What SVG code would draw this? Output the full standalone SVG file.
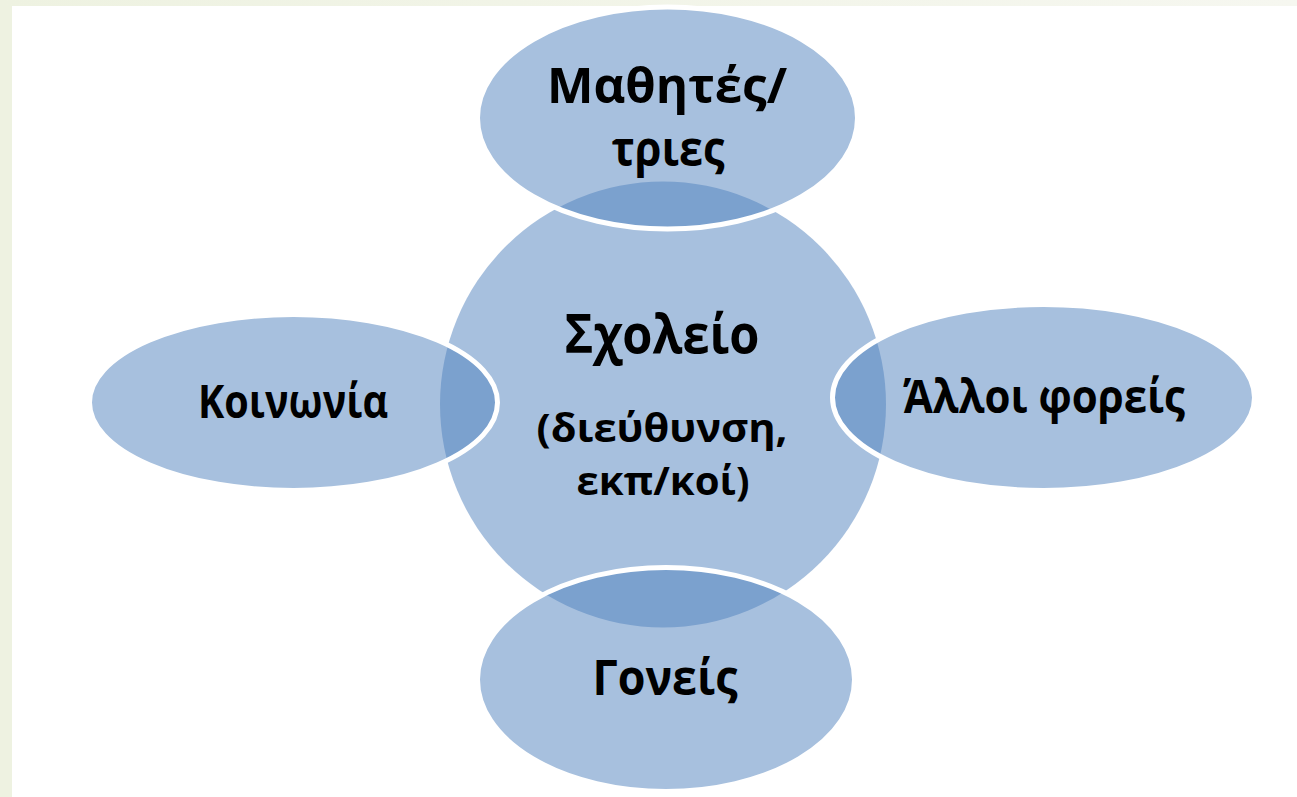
<svg xmlns="http://www.w3.org/2000/svg" width="1297" height="797" viewBox="0 0 1297 797">
  <defs>
    <linearGradient id="topStrip" x1="0" y1="0" x2="1" y2="0">
      <stop offset="0" stop-color="#eef2e1"/>
      <stop offset="1" stop-color="#f6f7f0"/>
    </linearGradient>
  </defs>
  <style>
    .center { fill: #4f81bd; fill-opacity: 0.5; stroke: none; }
    .sat { fill: #4f81bd; fill-opacity: 0.5; stroke: #ffffff; stroke-width: 5; }
    .lbl { font-family: "Open Sans", "Noto Sans", "DejaVu Sans", sans-serif; font-weight: 700; fill: #000000; text-anchor: middle; }
  </style>
  <rect x="0" y="0" width="1297" height="797" fill="#eef2e1"/>
  <rect x="0" y="0" width="1297" height="6" fill="url(#topStrip)"/>
  <rect x="12" y="6" width="1285" height="791" fill="#ffffff"/>

  <g id="connectors"></g>

  <g id="node-school">
    <circle class="center" cx="663" cy="404.5" r="223"/>
  </g>
  <g id="node-students">
    <ellipse class="sat" cx="667.5" cy="118" rx="190" ry="111"/>
  </g>
  <g id="node-society">
    <ellipse class="sat" cx="293.5" cy="402.5" rx="204" ry="88"/>
  </g>
  <g id="node-others">
    <ellipse class="sat" cx="1043.5" cy="397.5" rx="211" ry="93"/>
  </g>
  <g id="node-parents">
    <ellipse class="sat" cx="666" cy="679.5" rx="188.5" ry="112"/>
  </g>

  <g id="labels">
    <text class="lbl" x="667" y="103" font-size="49" textLength="240" lengthAdjust="spacingAndGlyphs">Μαθητές/</text>
    <text class="lbl" x="668" y="166" font-size="49" textLength="113" lengthAdjust="spacingAndGlyphs">τριες</text>
    <text class="lbl" x="662" y="353" font-size="54" textLength="195" lengthAdjust="spacingAndGlyphs">Σχολείο</text>
    <text class="lbl" x="662" y="442" font-size="39" textLength="251" lengthAdjust="spacingAndGlyphs">(διεύθυνση,</text>
    <text class="lbl" x="663" y="495" font-size="39" textLength="173" lengthAdjust="spacingAndGlyphs">εκπ/κοί)</text>
    <text class="lbl" x="293" y="418" font-size="47" textLength="190" lengthAdjust="spacingAndGlyphs">Κοινωνία</text>
    <text class="lbl" x="1044" y="413" font-size="47" textLength="282" lengthAdjust="spacingAndGlyphs">Άλλοι φορείς</text>
    <text class="lbl" x="665" y="695" font-size="49" textLength="145" lengthAdjust="spacingAndGlyphs">Γονείς</text>
  </g>
</svg>
